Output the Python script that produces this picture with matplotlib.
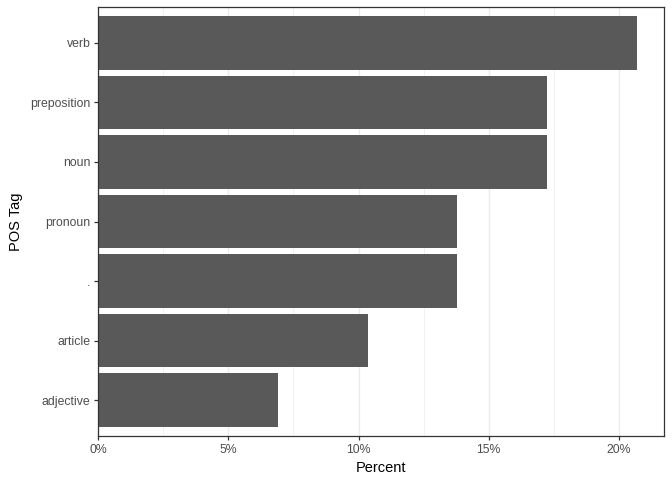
import numpy as np
import matplotlib.pyplot as plt
from matplotlib.ticker import MultipleLocator, FuncFormatter

plt.rcParams['font.family'] = ['Liberation Sans', 'DejaVu Sans']

tags = ["adjective", "article", ".", "pronoun", "noun", "preposition", "verb"]
counts = [2, 3, 4, 4, 5, 5, 6]
percent = [c / sum(counts) * 100 for c in counts]

fig = plt.figure(figsize=(6.72, 4.8), dpi=100)
ax = fig.add_axes([98 / 672, 44 / 480, (664 - 98) / 672, (436 - 7) / 480])

y = np.arange(len(tags))
ax.barh(y, percent, height=0.9, color="#595959", zorder=2)

xmax = max(percent)
ax.set_xlim(0, xmax * 1.05)
ax.set_ylim(-0.6, len(tags) - 0.4)

ax.xaxis.set_major_locator(MultipleLocator(5))
ax.xaxis.set_minor_locator(MultipleLocator(2.5))
ax.xaxis.set_major_formatter(FuncFormatter(lambda v, p: f"{v:.0f}%"))
ax.set_yticks(y)
ax.set_yticklabels(tags)

# only vertical grid lines, as in the reference
ax.grid(which="major", axis="x", color="#EBEBEB", linewidth=1.0, zorder=0)
ax.grid(which="minor", axis="x", color="#EBEBEB", linewidth=0.5, zorder=0)
ax.set_axisbelow(True)

for s in ax.spines.values():
    s.set_color("#333333")
    s.set_linewidth(0.9)

ax.tick_params(which="major", length=3, width=0.9, color="#333333",
               labelcolor="#4D4D4D", labelsize=8.8, pad=2.5)
ax.tick_params(which="minor", length=0)

ax.set_xlabel("Percent", fontsize=10.5, color="black", labelpad=4)
ax.set_ylabel("POS Tag", fontsize=10.5, color="black", labelpad=5)

fig.savefig("out.png", dpi=100)
